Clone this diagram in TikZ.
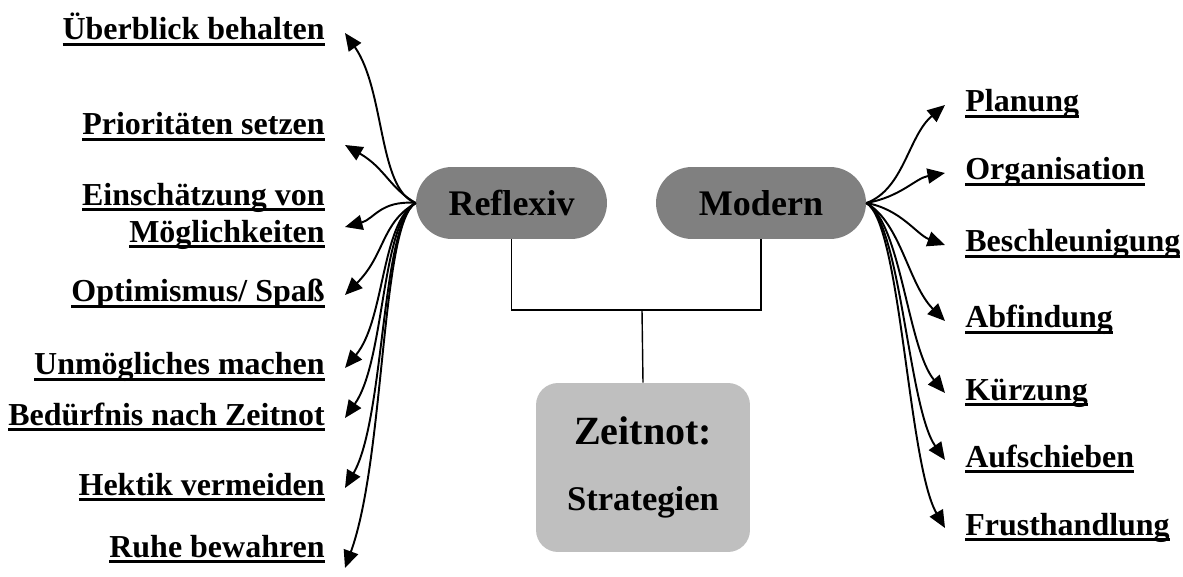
\documentclass[tikz,border=0pt]{standalone}
\usepackage{fontspec}
\setmainfont{Liberation Serif}
\usetikzlibrary{arrows.meta}

% bold text with a thick underline at a fixed depth
\newcommand{\ulbf}[1]{\setbox0\hbox{#1}\rlap{\rule[-3.3pt]{\wd0}{1.8pt}}\box0}

\begin{document}
\begin{tikzpicture}[
    x=0.02cm, y=0.02cm,
    pill/.style={rectangle, rounded corners=0.72cm, fill=black!50, minimum width=3.82cm, minimum height=1.44cm,
                 font=\bfseries\fontsize{20.5}{24}\selectfont},
    core/.style={rectangle, rounded corners=0.44cm, fill=black!25, minimum width=4.28cm, minimum height=3.38cm,
                 align=center, font=\bfseries\fontsize{22.8}{37.6}\selectfont},
    lbl/.style={inner xsep=0.4cm, inner ysep=0pt, text height=0.44cm, text depth=0.16cm,
                font=\bfseries\fontsize{18.2}{21}\selectfont},
    arr/.style={-{Triangle[length=3.5mm,width=3mm]}, line width=1.1pt, out distance=0.8cm, in distance=0.8cm},
    link/.style={line width=0.8pt}
]
\useasboundingbox (0,0) rectangle (1183,-577);

% Two strategy types and the topic
\node[pill] (refl) at (511.5,-203) {Reflexiv};
\node[pill, minimum width=4.2cm] (mod) at (761,-203) {Modern};
\node[core] (zeit) at (643,-467.5) {Zeitnot:\\{\fontsize{19.7}{37.6}\selectfont Strategien}};
\coordinate (join) at (642,-310);

% Reflexive strategies (left)
\node[lbl, anchor=base east] (r1) at (345,-40) {\ulbf{Überblick behalten}};
\node[lbl, anchor=base east] (r2) at (345,-135) {\ulbf{Prioritäten setzen}};
\node[lbl, anchor=east, align=right, text height=, text depth=] (r3) at (345,-216) {\ulbf{Einschätzung von}\\\ulbf{Möglichkeiten}};
\node[lbl, anchor=base east] (r4) at (345,-302) {\ulbf{Optimismus/ Spaß}};
\node[lbl, anchor=base east] (r5) at (345,-375) {\ulbf{Unmögliches machen}};
\node[lbl, anchor=base east] (r6) at (345,-425) {\ulbf{Bedürfnis nach Zeitnot}};
\node[lbl, anchor=base east] (r7) at (345,-495) {\ulbf{Hektik vermeiden}};
\node[lbl, anchor=base east] (r8) at (345,-557) {\ulbf{Ruhe bewahren}};

% Modern strategies (right)
\node[lbl, anchor=base west] (m1) at (945,-112) {\ulbf{Planung}};
\node[lbl, anchor=base west] (m2) at (945,-180) {\ulbf{Organisation}};
\node[lbl, anchor=base west] (m3) at (945,-252) {\ulbf{Beschleunigung}};
\node[lbl, anchor=base west] (m4) at (945,-328) {\ulbf{Abfindung}};
\node[lbl, anchor=base west] (m5) at (945,-400) {\ulbf{Kürzung}};
\node[lbl, anchor=base west] (m6) at (945,-467) {\ulbf{Aufschieben}};
\node[lbl, anchor=base west] (m7) at (945,-535) {\ulbf{Frusthandlung}};

% Tree lines
\draw[link] (refl.south) |- (join) -| (mod.south);
\draw[link] (join) -- (zeit.north);

% Arrows left
\draw[arr] (refl.west) to[out=160, in=-55, in distance=1.4cm] (r1.east);
\draw[arr] (refl.west) to[out=150, out distance=0.6cm, in=-30, in distance=0.92cm] ([yshift=-0.34cm]r2.east);
\draw[arr] (refl.west) to[out=175, out distance=0.7cm, in=15, in distance=0.6cm] ([yshift=-0.22cm]r3.east);
\draw[arr] (refl.west) to[out=-150, in=45, in distance=1.14cm] (r4.east);
\draw[arr] (refl.west) to[out=-150, in=50, in distance=1.24cm] (r5.east);
\draw[arr] (refl.west) to[out=-150, in=55, in distance=1.4cm] (r6.east);
\draw[arr] (refl.west) to[out=-150, in=60, in distance=1.6cm] (r7.east);
\draw[arr] (refl.west) to[out=-150, in=70, in distance=2.34cm] ([yshift=-0.36cm]r8.east);

% Arrows right
\draw[arr] (mod.east) to[out=20, in=-140, in distance=0.96cm] (m1.west);
\draw[arr] (mod.east) to[out=10, out distance=0.7cm, in=190, in distance=0.6cm] (m2.west);
\draw[arr] (mod.east) to[out=-10, out distance=0.7cm, in=160, in distance=0.6cm] (m3.west);
\draw[arr] (mod.east) to[out=-30, in=135, in distance=1.04cm] (m4.west);
\draw[arr] (mod.east) to[out=-30, in=130, in distance=1.16cm] (m5.west);
\draw[arr] (mod.east) to[out=-30, in=125, in distance=1.28cm] (m6.west);
\draw[arr] (mod.east) to[out=-30, in=120, in distance=1.48cm] (m7.west);

\end{tikzpicture}
\end{document}
